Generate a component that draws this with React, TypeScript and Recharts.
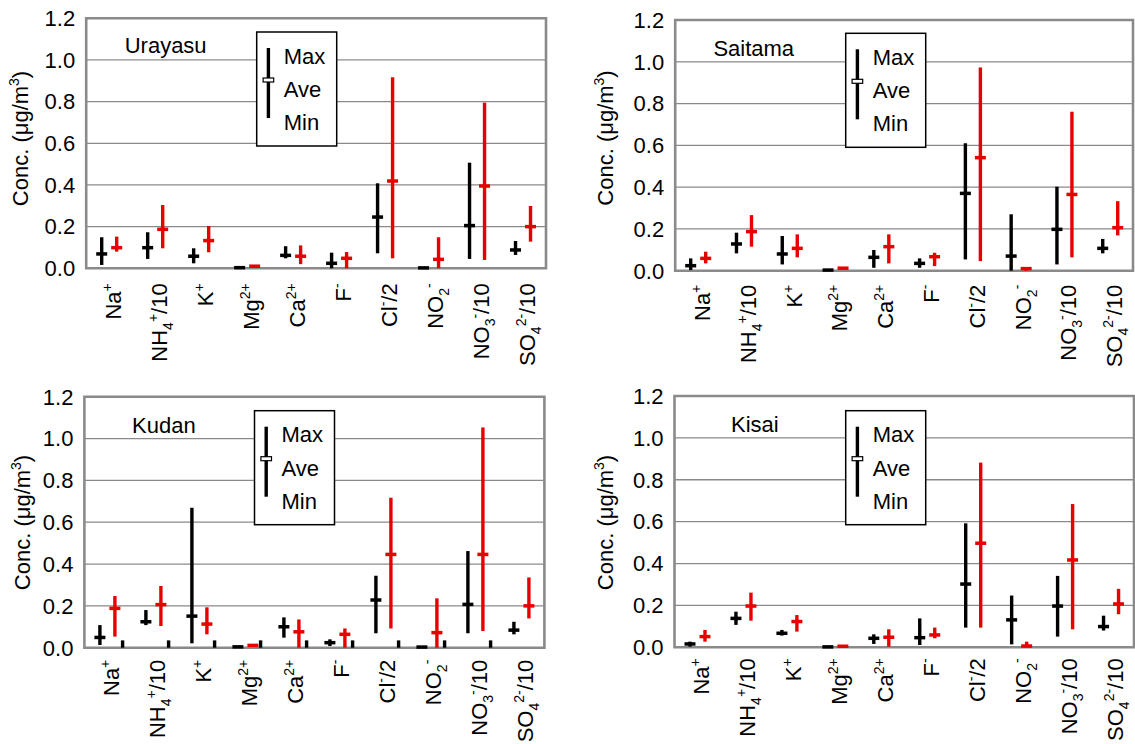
import React from "react";
import {
  ComposedChart,
  Bar,
  XAxis,
  YAxis,
  CartesianGrid,
  ReferenceArea,
} from "recharts";

const FONT = '"Liberation Sans", Arial, sans-serif';
const BLACK = "#000000";
const RED = "#e80000";

// ion categories (x axis)
const categories = [
  "Na+",
  "NH4+/10",
  "K+",
  "Mg2+",
  "Ca2+",
  "F-",
  "Cl-/2",
  "NO2-",
  "NO3-/10",
  "SO42-/10",
];

// how each tick label is typeset: [text, "" | "sub" | "sup"]
const labelParts = [
  [["Na", ""], ["+", "sup"]],
  [["NH", ""], ["4", "sub"], ["+", "sup"], ["/10", ""]],
  [["K", ""], ["+", "sup"]],
  [["Mg", ""], ["2+", "sup"]],
  [["Ca", ""], ["2+", "sup"]],
  [["F", ""], ["-", "sup"]],
  [["Cl", ""], ["-", "sup"], ["/2", ""]],
  [["NO", ""], ["2", "sub"], ["-", "sup"]],
  [["NO", ""], ["3", "sub"], ["-", "sup"], ["/10", ""]],
  [["SO", ""], ["4", "sub"], ["2-", "sup"], ["/10", ""]],
];

const yTicks = [0, 0.2, 0.4, 0.6, 0.8, 1.0, 1.2];

// [min, ave, max] per category
const urayasuBlack = [
  [0.016, 0.069, 0.149], [0.045, 0.099, 0.173], [0.024, 0.058, 0.096],
  [0.001, 0.003, 0.006], [0.048, 0.062, 0.106], [0.0, 0.024, 0.075],
  [0.072, 0.246, 0.408], [0.0, 0.002, 0.004], [0.045, 0.205, 0.507],
  [0.064, 0.088, 0.131],
];
const urayasuRed = [
  [0.08, 0.099, 0.152], [0.096, 0.187, 0.304], [0.077, 0.133, 0.203],
  [0.006, 0.01, 0.014], [0.02, 0.058, 0.11], [0.0, 0.048, 0.078],
  [0.048, 0.419, 0.917], [0.0, 0.043, 0.149], [0.04, 0.395, 0.795],
  [0.128, 0.2, 0.299],
];

const saitamaBlack = [
  [0.003, 0.024, 0.059], [0.083, 0.128, 0.182], [0.03, 0.08, 0.166],
  [0.0, 0.003, 0.006], [0.014, 0.064, 0.099], [0.014, 0.035, 0.059],
  [0.054, 0.37, 0.61], [0.0, 0.07, 0.27], [0.03, 0.198, 0.402],
  [0.083, 0.107, 0.152],
];
const saitamaRed = [
  [0.035, 0.059, 0.091], [0.115, 0.187, 0.266], [0.064, 0.107, 0.174],
  [0.008, 0.012, 0.016], [0.035, 0.115, 0.174], [0.022, 0.067, 0.086],
  [0.046, 0.541, 0.973], [0.0, 0.01, 0.015], [0.064, 0.365, 0.761],
  [0.169, 0.206, 0.333],
];

const kudanBlack = [
  [0.013, 0.049, 0.108], [0.108, 0.124, 0.18], [0.021, 0.151, 0.669],
  [0.001, 0.004, 0.008], [0.048, 0.1, 0.145], [0.008, 0.024, 0.04],
  [0.069, 0.228, 0.344], [0.0, 0.003, 0.006], [0.069, 0.207, 0.462],
  [0.064, 0.084, 0.124],
];
const kudanRed = [
  [0.053, 0.188, 0.247], [0.104, 0.206, 0.295], [0.064, 0.113, 0.193],
  [0.008, 0.011, 0.014], [0.0, 0.076, 0.135], [0.0, 0.064, 0.092],
  [0.092, 0.446, 0.717], [0.0, 0.072, 0.236], [0.08, 0.446, 1.053],
  [0.14, 0.2, 0.336],
];
// small third series only seen at Kudan (max, min is 0)
const kudanThird = [0.035, 0.035, 0.035, 0.035, 0.035, 0.035, 0.035, 0.035, 0.035, null];

const kisaiBlack = [
  [0.003, 0.016, 0.027], [0.107, 0.138, 0.17], [0.056, 0.067, 0.083],
  [0.0, 0.002, 0.004], [0.016, 0.043, 0.062], [0.011, 0.046, 0.138],
  [0.094, 0.302, 0.592], [0.014, 0.131, 0.247], [0.051, 0.197, 0.341],
  [0.08, 0.099, 0.151],
];
const kisaiRed = [
  [0.027, 0.051, 0.083], [0.127, 0.197, 0.261], [0.075, 0.123, 0.154],
  [0.002, 0.005, 0.008], [0.003, 0.048, 0.086], [0.043, 0.059, 0.094],
  [0.094, 0.497, 0.882], [0.0, 0.006, 0.027], [0.086, 0.417, 0.684],
  [0.158, 0.207, 0.279],
];

const buildRows = (black, red, third = null) =>
  categories.map((name, i) => ({
    name,
    bMin: black[i][0],
    bAve: black[i][1],
    bMax: black[i][2],
    rMin: red[i][0],
    rAve: red[i][1],
    rMax: red[i][2],
    kMin: third && third[i] != null ? 0 : null,
    kMax: third ? third[i] : null,
  }));

// plot rectangles (page px) and decorations for the 4 panels
const panels = [
  { site: "Urayasu", rows: buildRows(urayasuBlack, urayasuRed), third: false,
    x0: 0, y0: 0, w: 567, L: 86.2, R: 546, T: 18.3, B: 268.3, labelGap: 15,
    title: [124.7, 53.3], legend: [256.7, 32], yLabel: [28, 138.5] },
  { site: "Saitama", rows: buildRows(saitamaBlack, saitamaRed), third: false,
    x0: 567, y0: 0, w: 568, L: 675.2, R: 1133, T: 20, B: 270.7, labelGap: 14,
    title: [713.4, 56], legend: [845.7, 33.3], yLabel: [613, 138] },
  { site: "Kudan", rows: buildRows(kudanBlack, kudanRed, kudanThird), third: true,
    x0: 0, y0: 372, w: 567, L: 84.4, R: 544.4, T: 396.7, B: 647.7, labelGap: 12,
    title: [132, 433.3], legend: [254.5, 410.7], yLabel: [29.5, 522.5] },
  { site: "Kisai", rows: buildRows(kisaiBlack, kisaiRed), third: false,
    x0: 567, y0: 372, w: 568, L: 674.5, R: 1134, T: 396, B: 647.3, labelGap: 11,
    title: [731, 431.7], legend: [845.7, 410.7], yLabel: [613, 522.5] },
];

// vertical min-max line with an average tick
const Whisker = (props) => {
  const { x, y, width, height, color, lo, mid, hi } = props;
  if (x == null || y == null || lo == null || hi == null) return null;
  const cx = x + width / 2;
  const top = Math.min(y, y + height);
  const bot = Math.max(y, y + height);
  const span = hi - lo;
  const yMid =
    mid == null ? null : span > 0 ? bot - ((mid - lo) / span) * (bot - top) : top;
  return (
    <g>
      <rect x={cx - 1.7} y={top} width={3.4} height={Math.max(bot - top, 0.5)} fill={color} />
      {yMid != null && (
        <rect x={cx - 5.5} y={yMid - 1.75} width={11} height={3.5} fill={color} />
      )}
    </g>
  );
};

const IonTick = (props) => {
  const { x, y, index, gap } = props;
  const parts = labelParts[index] || [];
  let cur = 0;
  return (
    <g transform={`translate(${x + 12},${y + gap}) rotate(-90)`}>
      <text textAnchor="end" fontSize={22} fontFamily={FONT} fill="#000">
        {parts.map(([t, kind], k) => {
          const target = kind === "sub" ? 6 : kind === "sup" ? -9 : 0;
          const dy = target - cur;
          cur = target;
          return (
            <tspan key={k} dy={dy} fontSize={kind ? 14 : 22}>
              {t}
            </tspan>
          );
        })}
      </text>
    </g>
  );
};

const YLabel = ({ px, py }) => (
  <text
    transform={`translate(${px},${py}) rotate(-90)`}
    textAnchor="middle"
    fontSize={22}
    fontFamily={FONT}
    fill="#000"
  >
    Conc. (μg/m
    <tspan dy={-9} fontSize={14}>3</tspan>
    <tspan dy={9}>)</tspan>
  </text>
);

const Panel = ({ p }) => {
  const h = 372;
  return (
    <div style={{ position: "absolute", left: p.x0, top: p.y0 }}>
      <ComposedChart
        width={p.w}
        height={h}
        data={p.rows}
        barGap={0}
        margin={{ top: p.T - p.y0, right: p.x0 + p.w - p.R, left: 0, bottom: 0 }}
      >
        <CartesianGrid vertical={false} stroke="#8a8a8a" strokeWidth={1.3} />
        <ReferenceArea y1={0} y2={1.2} fill="none" stroke="#8a8a8a" strokeWidth={2.6} />
        <XAxis
          dataKey="name"
          interval={0}
          axisLine={false}
          tickLine={false}
          tickSize={0}
          tickMargin={0}
          height={p.y0 + h - p.B}
          tick={<IonTick gap={p.labelGap} />}
        />
        <YAxis
          domain={[0, 1.2]}
          ticks={yTicks}
          width={p.L - p.x0}
          axisLine={false}
          tickLine={false}
          tickSize={0}
          tickMargin={11}
          tickFormatter={(v) => v.toFixed(1)}
          tick={{ fontSize: 22, fill: "#000", fontFamily: FONT }}
          label={<YLabel px={p.yLabel[0] - p.x0} py={p.yLabel[1] - p.y0} />}
        />
        <Bar
          dataKey={(d) => [d.bMin, d.bMax]}
          barSize={15}
          isAnimationActive={false}
          shape={(s) => (
            <Whisker {...s} color={BLACK} lo={s.payload.bMin} mid={s.payload.bAve} hi={s.payload.bMax} />
          )}
        />
        <Bar
          dataKey={(d) => [d.rMin, d.rMax]}
          barSize={15}
          isAnimationActive={false}
          shape={(s) => (
            <Whisker {...s} color={RED} lo={s.payload.rMin} mid={s.payload.rAve} hi={s.payload.rMax} />
          )}
        />
        {p.third && (
          <Bar
            dataKey={(d) => (d.kMax == null ? null : [d.kMin, d.kMax])}
            barSize={0.4}
            isAnimationActive={false}
            shape={(s) => (
              <Whisker {...s} color={BLACK} lo={s.payload.kMin} mid={null} hi={s.payload.kMax} />
            )}
          />
        )}
      </ComposedChart>
    </div>
  );
};

const LegendBox = ({ x, y }) => (
  <g>
    <rect x={x} y={y} width={80} height={114} fill="#fff" stroke="#000" strokeWidth={1.5} />
    <rect x={x + 10} y={y + 16} width={3.4} height={70} fill="#000" />
    <rect x={x + 6.4} y={y + 46} width={10.6} height={4} fill="#fff" stroke="#000" strokeWidth={1.2} />
    <text x={x + 27} y={y + 31.5} fontSize={22} fontFamily={FONT}>Max</text>
    <text x={x + 27} y={y + 64.8} fontSize={22} fontFamily={FONT}>Ave</text>
    <text x={x + 27} y={y + 98} fontSize={22} fontFamily={FONT}>Min</text>
  </g>
);

export default function App() {
  return (
    <div
      style={{
        position: "absolute",
        left: 0,
        top: 0,
        width: 1135,
        height: 744,
        background: "#fff",
        fontFamily: FONT,
      }}
    >
      {panels.map((p) => (
        <Panel key={p.site} p={p} />
      ))}
      <svg
        width={1135}
        height={744}
        style={{ position: "absolute", left: 0, top: 0, pointerEvents: "none" }}
      >
        {panels.map((p) => (
          <g key={p.site}>
            <text x={p.title[0]} y={p.title[1]} fontSize={22} fontFamily={FONT}>
              {p.site}
            </text>
            <LegendBox x={p.legend[0]} y={p.legend[1]} />
          </g>
        ))}
      </svg>
    </div>
  );
}
